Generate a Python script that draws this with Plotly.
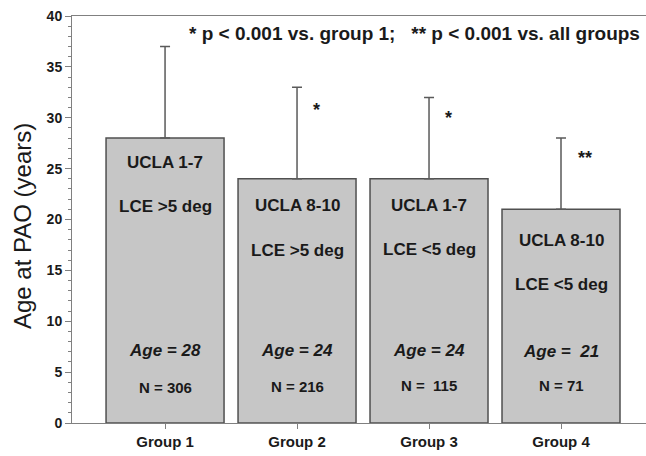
import plotly.graph_objects as go

groups = ["Group 1", "Group 2", "Group 3", "Group 4"]
mean_age = [28, 24, 24, 21]
sd_upper = [9, 9, 8, 7]
ucla_labels = ["UCLA 1-7", "UCLA 8-10", "UCLA 1-7", "UCLA 8-10"]
lce_labels = ["LCE >5 deg", "LCE >5 deg", "LCE <5 deg", "LCE <5 deg"]
age_labels = ["Age = 28", "Age = 24", "Age = 24", "Age =  21"]
n_labels = ["N = 306", "N = 216", "N =  115", "N = 71"]
sig_marks = ["", "*", "*", "**"]
ucla_y = [25.6, 21.4, 21.4, 17.9]
lce_y = [21.3, 17.0, 17.1, 13.6]
age_y = [7.1, 7.1, 7.1, 7.0]
n_y = [3.5, 3.6, 3.7, 3.7]
sig_y = [0, 30.8, 30.0, 26.0]
footnote = "* p < 0.001 vs. group 1;   ** p < 0.001 vs. all groups"
y_title = "Age at PAO (years)"

FONT = "Liberation Sans, Arial, sans-serif"
xs = list(range(len(groups)))

fig = go.Figure()
fig.add_trace(go.Bar(
    x=xs, y=mean_age, width=0.894,
    marker=dict(color="#c6c6c6", line=dict(color="#505050", width=1.5)),
    error_y=dict(type="data", array=sd_upper, arrayminus=[0]*4, symmetric=False,
                 color="#5a5a5a", thickness=1.5, width=5),
    showlegend=False, hoverinfo="skip",
))

ann = []
for i in xs:
    ann.append(dict(x=i, y=ucla_y[i], text="<b>%s</b>" % ucla_labels[i], showarrow=False,
                    font=dict(family=FONT, size=17, color="#1a1a1a")))
    ann.append(dict(x=i, y=lce_y[i], text="<b>%s</b>" % lce_labels[i], showarrow=False,
                    font=dict(family=FONT, size=17, color="#1a1a1a")))
    ann.append(dict(x=i, y=age_y[i], text="<b><i>%s</i></b>" % age_labels[i], showarrow=False,
                    font=dict(family=FONT, size=17, color="#1a1a1a")))
    ann.append(dict(x=i, y=n_y[i], text="<b>%s</b>" % n_labels[i], showarrow=False,
                    font=dict(family=FONT, size=15, color="#1a1a1a")))
    if sig_marks[i]:
        ann.append(dict(x=i, y=sig_y[i], text="<b>%s</b>" % sig_marks[i], showarrow=False,
                        xshift=19 if len(sig_marks[i]) == 1 else 24,
                        font=dict(family=FONT, size=18, color="#1a1a1a")))

ann.append(dict(xref="paper", x=0.5967, xanchor="center", y=38.3, text="<b>%s</b>" % footnote,
                showarrow=False, font=dict(family=FONT, size=19, color="#1a1a1a")))
ann.append(dict(xref="paper", yref="paper", x=-0.0871, y=0.484, xanchor="center", yanchor="middle",
                text=y_title, textangle=-90,
                showarrow=False, font=dict(family=FONT, size=24, color="#1a1a1a")))

fig.update_layout(
    width=646, height=456,
    margin=dict(l=72, r=0, t=16, b=33),
    paper_bgcolor="white", plot_bgcolor="white",
    annotations=ann,
    xaxis=dict(range=[-0.705, 3.644], tickvals=xs, ticktext=["<b>%s</b>" % g for g in groups],
               showline=True, linecolor="#808080", linewidth=1, mirror=True,
               ticks="outside", ticklen=5, tickcolor="#808080", showgrid=False, zeroline=False,
               tickfont=dict(family=FONT, size=15, color="#1a1a1a")),
    yaxis=dict(range=[0, 40], tickvals=[0, 5, 10, 15, 20, 25, 30, 35, 40],
               ticktext=["<b>%d</b>" % v for v in [0, 5, 10, 15, 20, 25, 30, 35, 40]],
               showline=True, linecolor="#808080", linewidth=1,
               ticks="outside", ticklen=6, tickcolor="#808080", showgrid=False, zeroline=False,
               minor=dict(dtick=1, ticks="outside", ticklen=3, tickcolor="#808080"),
               tickfont=dict(family=FONT, size=14, color="#1a1a1a")),
)

fig.write_html("out.html", config={"displayModeBar": False},
               post_script="document.body.style.margin='0';")
